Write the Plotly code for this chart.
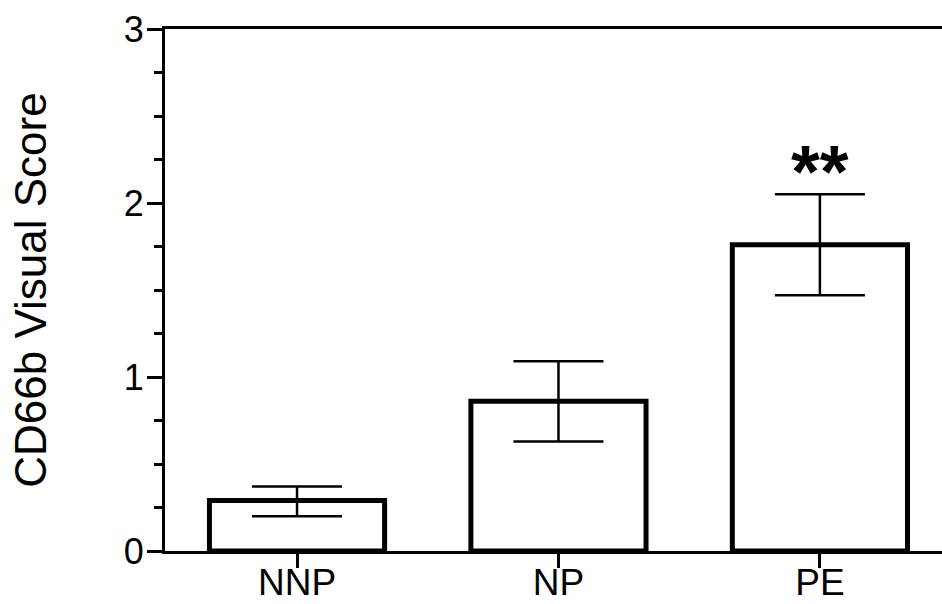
import plotly.graph_objects as go

categories = ["NNP", "NP", "PE"]
means = [0.29, 0.86, 1.76]
err_plus = [0.08, 0.23, 0.29]
err_minus = [0.09, 0.23, 0.29]
sig_labels = ["", "", "**"]
sig_y = [None, None, 2.18]
y_ticks = [0, 1, 2, 3]

FONT = "Liberation Sans, Arial, Helvetica, sans-serif"

fig = go.Figure()
fig.add_trace(go.Bar(
    x=list(range(len(categories))),
    y=means,
    width=0.67,
    marker=dict(color="white", line=dict(color="black", width=5)),
    error_y=dict(type="data", symmetric=False, array=err_plus, arrayminus=err_minus,
                 color="black", thickness=2.5, width=45),
    showlegend=False,
))

for i, (lab, yy) in enumerate(zip(sig_labels, sig_y)):
    if lab:
        fig.add_annotation(x=i, y=yy, xref="x", yref="y", text="<b>" + lab + "</b>",
                           showarrow=False, font=dict(size=74, color="black", family=FONT))

fig.update_layout(
    width=942, height=604,
    margin=dict(l=165, r=0, t=29, b=53),
    plot_bgcolor="white", paper_bgcolor="white",
    font=dict(family=FONT, color="black"),
)
fig.update_xaxes(
    range=[-0.505, 2.467], automargin=False,
    tickmode="array", tickvals=list(range(len(categories))), ticktext=categories,
    ticks="outside", ticklen=14, tickwidth=2.5, tickcolor="black",
    showline=True, linecolor="black", linewidth=2.5, mirror=True,
    showgrid=False, zeroline=False, ticklabelstandoff=-17,
    tickfont=dict(size=37, color="black", family=FONT),
)
fig.update_yaxes(
    range=[0, 3], automargin=False,
    tickmode="array", tickvals=y_ticks, ticktext=[str(t) for t in y_ticks],
    ticks="outside", ticklen=15, tickwidth=2.5, tickcolor="black",
    minor=dict(dtick=0.25, ticks="outside", ticklen=8, tickwidth=2.5, tickcolor="black", showgrid=False),
    showline=True, linecolor="black", linewidth=3,
    showgrid=False, zeroline=False, ticklabelstandoff=-4,
    tickfont=dict(size=36, color="black", family=FONT),
    title=dict(text="CD66b Visual Score", font=dict(size=44, color="black", family=FONT), standoff=64),
)

fig.write_html("out.html")
